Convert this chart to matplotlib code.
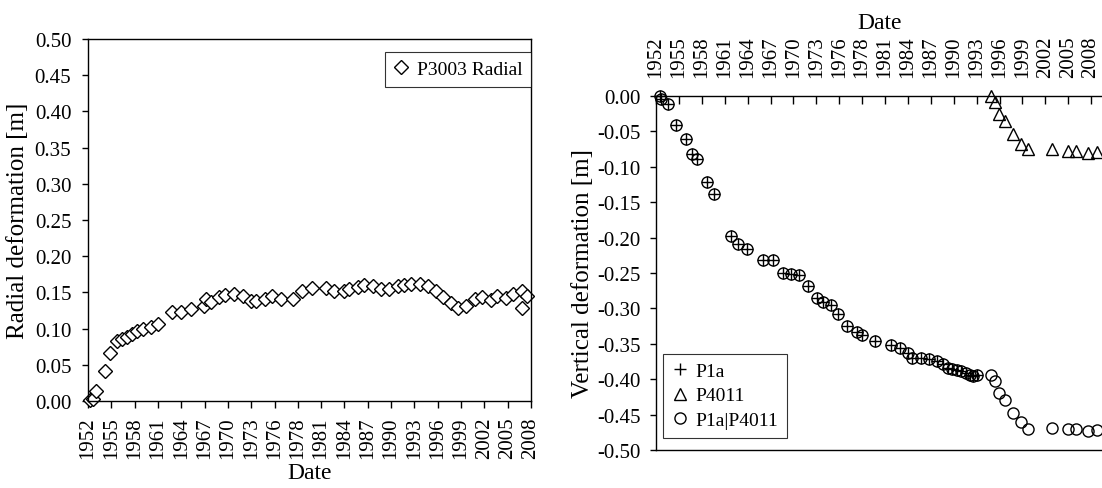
import numpy as np
import matplotlib
matplotlib.use("Agg")
import matplotlib.pyplot as plt
from matplotlib.ticker import FuncFormatter

plt.rcParams['font.family'] = ['Liberation Serif', 'DejaVu Serif']
plt.rcParams['axes.unicode_minus'] = False
plt.rcParams['font.size'] = 15

# tick labels (Excel-style date axis, ~2.95 years per step)
year_labels = ['1952', '1955', '1958', '1961', '1964', '1967', '1970', '1973',
               '1976', '1978', '1981', '1984', '1987', '1990', '1993', '1996',
               '1999', '2002', '2005', '2008']
tick_start = 1952.42
tick_step = 2.95

# left panel: P3003 radial deformation (decimal years, m)
p3003_year = [1952.67, 1953.01, 1953.43, 1954.57, 1955.20, 1956.04, 1956.67, 1957.31,
              1957.94, 1958.64, 1959.40, 1960.37, 1961.29, 1962.99, 1964.16, 1965.51,
              1967.10, 1967.40, 1968.03, 1969.00, 1969.71, 1970.85, 1972.02, 1973.08,
              1973.72, 1974.76, 1975.74, 1976.87, 1978.34, 1979.52, 1980.78, 1982.55,
              1983.60, 1984.86, 1985.40, 1986.54, 1987.39, 1988.52, 1989.49, 1990.45,
              1991.59, 1992.43, 1993.28, 1994.42, 1995.50, 1996.44, 1997.36, 1998.33,
              1999.25, 2000.22, 2001.36, 2002.32, 2003.38, 2004.21, 2005.35, 2006.19,
              2007.29, 2007.37, 2008.00]
p3003_radial = [0.001, 0.003, 0.014, 0.042, 0.066, 0.083, 0.086, 0.089,
                0.0925, 0.096, 0.0995, 0.102, 0.106, 0.1225, 0.1225, 0.127,
                0.1316, 0.141, 0.137, 0.143, 0.147, 0.148, 0.1446, 0.1377,
                0.1386, 0.141, 0.1455, 0.141, 0.141, 0.1515, 0.156, 0.156,
                0.1515, 0.1524, 0.1547, 0.157, 0.160, 0.159, 0.1547, 0.1547,
                0.1584, 0.160, 0.1616, 0.1616, 0.159, 0.1515, 0.144, 0.136,
                0.128, 0.1316, 0.141, 0.143, 0.140, 0.1455, 0.142, 0.148,
                0.1524, 0.129, 0.1455]

# right panel: vertical deformation
p1a_year = [1952.94, 1953.06, 1954.00, 1955.00, 1956.25, 1957.02, 1957.66, 1959.05,
            1959.89, 1962.08, 1963.02, 1964.10, 1966.24, 1967.53, 1968.74, 1969.77,
            1970.84, 1971.96, 1973.12, 1973.97, 1974.93, 1975.83, 1977.06, 1978.35,
            1979.00, 1980.63, 1982.65, 1983.85, 1984.92, 1985.44, 1986.52, 1987.63,
            1988.58, 1989.43, 1990.00, 1990.51, 1991.16, 1991.67, 1992.35, 1992.87,
            1993.22, 1993.73]
p1a_vert = [0.000, -0.004, -0.012, -0.041, -0.061, -0.082, -0.089, -0.122,
            -0.139, -0.1975, -0.209, -0.216, -0.231, -0.231, -0.250, -0.2516,
            -0.253, -0.269, -0.2855, -0.2916, -0.2954, -0.308, -0.3246, -0.334,
            -0.3374, -0.3458, -0.352, -0.3566, -0.3623, -0.3694, -0.3694, -0.371,
            -0.374, -0.379, -0.3835, -0.386, -0.387, -0.389, -0.3906, -0.394,
            -0.396, -0.394]

p4011_year = [1995.54, 1996.09, 1996.61, 1997.38, 1998.45, 1999.40, 2000.38,
              2003.39, 2005.53, 2006.52, 2008.11, 2009.19]
p4011_vert = [0.000, -0.009, -0.025, -0.035, -0.054, -0.068, -0.075,
              -0.075, -0.077, -0.077, -0.080, -0.079]

# combined series: P1a until 1994, then P1a end + P4011
comb_year = p1a_year + p4011_year
comb_vert = p1a_vert + [-0.394, -0.403, -0.420, -0.430, -0.448, -0.461, -0.470,
                        -0.469, -0.471, -0.471, -0.473, -0.472]

tick_pos = [tick_start + i * tick_step for i in range(len(year_labels))]
fmt2 = FuncFormatter(lambda v, p: '%.2f' % (0.0 if abs(v) < 1e-9 else v))

fig = plt.figure(figsize=(11.02, 4.89), dpi=100)

# ---- left panel
ax1 = fig.add_axes([88/1102, 1-402/489, (531-88)/1102, (402-40)/489])
ax1.plot(p3003_year, p3003_radial, linestyle='none', marker='D', ms=7,
         mfc='white', mec='black', mew=1.0, label='P3003 Radial', clip_on=False)
ax1.set_xlim(tick_pos[0], tick_pos[-1])
ax1.set_ylim(0, 0.5)
ax1.set_yticks(np.linspace(0, 0.5, 11))
ax1.yaxis.set_major_formatter(fmt2)
ax1.set_xticks(tick_pos)
ax1.set_xticklabels(year_labels, rotation=90)
ax1.tick_params(axis='x', direction='out', length=5, width=1, pad=6)
ax1.tick_params(axis='y', direction='out', length=4, width=1, pad=8)
ax1.set_xlabel('Date', fontsize=17, labelpad=3)
ax1.set_ylabel('Radial deformation [m]', fontsize=18, labelpad=4)
for s in ax1.spines.values():
    s.set_linewidth(1.0)
leg1 = ax1.legend(loc='upper right', bbox_to_anchor=(1.0, 0.965), frameon=True,
                  fancybox=False, edgecolor='black', handlelength=0.8,
                  handletextpad=0.4, borderpad=0.45, borderaxespad=0.0,
                  fontsize=14)
leg1.get_frame().set_linewidth(0.8)

# ---- right panel
ax2 = fig.add_axes([656/1102, 1-451/489, (1104-656)/1102, (451-97)/489])
ax2.plot(comb_year, comb_vert, linestyle='none', marker='o', ms=8,
         mfc='none', mec='black', mew=1.0, label='P1a|P4011', zorder=3, clip_on=False)
ax2.plot(p1a_year, p1a_vert, linestyle='none', marker='+', ms=9,
         mec='black', mew=1.0, label='P1a', zorder=4, clip_on=False)
ax2.plot(p4011_year, p4011_vert, linestyle='none', marker='^', ms=9,
         mfc='none', mec='black', mew=1.0, label='P4011', zorder=4, clip_on=False)
ax2.set_xlim(tick_pos[0], tick_pos[0] + (1104-656) / 22.9 * tick_step)
ax2.set_ylim(-0.5, 0)
ax2.set_yticks(np.linspace(-0.5, 0, 11))
ax2.yaxis.set_major_formatter(fmt2)
ax2.xaxis.tick_top()
ax2.xaxis.set_label_position('top')
ax2.set_xticks(tick_pos)
ax2.set_xticklabels(year_labels, rotation=90)
ax2.tick_params(axis='x', direction='in', length=5.5, width=1, pad=14)
ax2.tick_params(axis='y', direction='out', length=4, width=1, pad=7)
ax2.set_xlabel('Date', fontsize=17, labelpad=5)
ax2.set_ylabel('Vertical deformation [m]', fontsize=18, labelpad=2)
for s in ax2.spines.values():
    s.set_linewidth(1.0)
handles, labels = ax2.get_legend_handles_labels()
order = [1, 2, 0]
leg2 = ax2.legend([handles[i] for i in order], [labels[i] for i in order],
                  loc='lower left', bbox_to_anchor=(0.016, 0.035), frameon=True,
                  fancybox=False, edgecolor='black', handlelength=0.8,
                  handletextpad=0.4, borderpad=0.45, borderaxespad=0.0,
                  labelspacing=0.35, fontsize=14)
leg2.get_frame().set_linewidth(0.8)

plt.savefig('out.png', dpi=100)
